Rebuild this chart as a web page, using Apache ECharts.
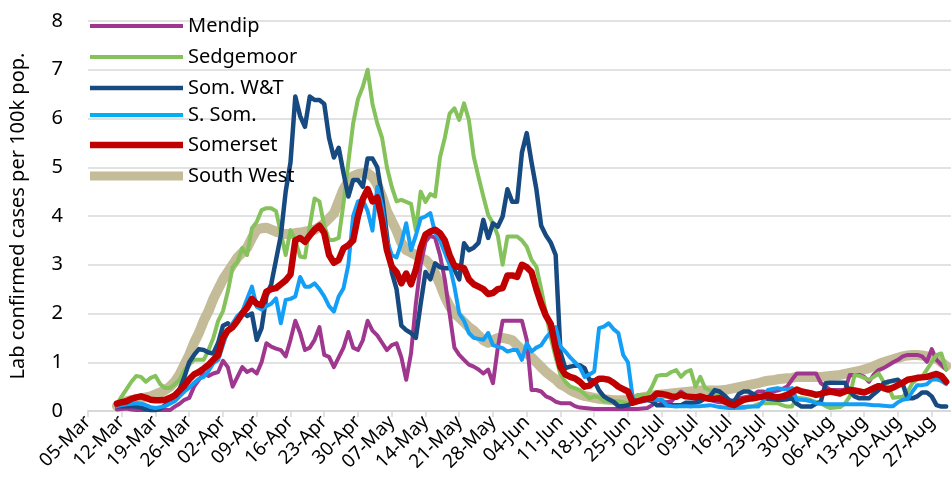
<!DOCTYPE html>
<html>
<head>
<meta charset="utf-8">
<script src="https://cdn.jsdelivr.net/npm/echarts@6/dist/echarts.min.js"></script>
<style>
  html, body { margin: 0; padding: 0; background: #fff; }
  #chart { width: 951px; height: 494px; }
</style>
</head>
<body>
<div id="chart"></div>
<script>
// daily categories 05-Mar .. 31-Aug, series start 11-Mar (index 6)
const months = ['Jan', 'Feb', 'Mar', 'Apr', 'May', 'Jun', 'Jul', 'Aug', 'Sep'];
const categories = [];
for (let d = new Date(2020, 2, 5); d <= new Date(2020, 7, 31); d.setDate(d.getDate() + 1)) {
  categories.push(String(d.getDate()).padStart(2, '0') + '-' + months[d.getMonth()]);
}
const firstDay = 6;

const mendip = [
  0.03, 0.04, 0.05, 0.03, 0.02, 0.02, 0.02, 0.02, 0.02, 0.02,
  0.02, 0.02, 0.09, 0.15, 0.23, 0.27, 0.5, 0.64, 0.77, 0.72,
  0.77, 0.8, 1.03, 0.9, 0.5, 0.7, 0.9, 0.8, 0.85, 0.77,
  1.0, 1.39, 1.32, 1.28, 1.25, 1.12, 1.46, 1.85, 1.6, 1.25,
  1.3, 1.46, 1.72, 1.15, 1.11, 0.9, 1.1, 1.3, 1.62, 1.3,
  1.25, 1.45, 1.85, 1.65, 1.55, 1.4, 1.25, 1.35, 1.39, 1.1,
  0.64, 1.18, 2.2, 3.0, 3.47, 3.6, 3.55, 3.2, 2.7, 2.0,
  1.3, 1.15, 1.05, 0.95, 0.91, 0.85, 0.77, 0.85, 0.57, 1.3,
  1.85, 1.85, 1.85, 1.85, 1.85, 1.46, 0.43, 0.43, 0.4, 0.3,
  0.26, 0.19, 0.16, 0.16, 0.16, 0.1, 0.07, 0.06, 0.05, 0.04,
  0.04, 0.04, 0.04, 0.04, 0.04, 0.04, 0.04, 0.04, 0.04, 0.05,
  0.06, 0.12, 0.23, 0.2, 0.18, 0.2, 0.3, 0.4, 0.32, 0.28,
  0.25, 0.25, 0.24, 0.23, 0.2, 0.18, 0.18, 0.18, 0.22, 0.26,
  0.28, 0.3, 0.33, 0.4, 0.4, 0.38, 0.4, 0.42, 0.45, 0.5,
  0.64, 0.77, 0.77, 0.77, 0.77, 0.77, 0.57, 0.5, 0.43, 0.43,
  0.43, 0.43, 0.74, 0.74, 0.74, 0.7, 0.6, 0.75, 0.84, 0.88,
  0.94, 1.0, 1.05, 1.12, 1.15, 1.15, 1.15, 1.12, 1.01, 1.27,
  1.05, 0.95, 0.85
];

const sedgemoor = [
  0.14, 0.3, 0.45, 0.6, 0.72, 0.7, 0.6, 0.68, 0.72, 0.55,
  0.47, 0.47, 0.55, 0.65, 0.84, 0.95, 1.05, 1.05, 1.05, 1.25,
  1.5, 1.85, 2.05, 2.45, 2.95, 3.06, 3.34, 3.2, 3.75, 3.88,
  4.12, 4.16, 4.16, 4.1, 3.65, 3.2, 3.71, 3.5, 3.17, 3.15,
  3.8, 4.36, 4.3, 3.8, 3.51, 3.51, 3.55, 4.26, 5.1, 5.9,
  6.4, 6.65, 7.0, 6.3, 5.9, 5.6, 5.0, 4.6, 4.3, 4.33,
  4.29, 4.25, 3.71, 4.5, 4.29, 4.45, 4.4, 5.2, 5.6, 6.1,
  6.21, 5.97, 6.31, 5.97, 5.22, 4.8, 4.4, 4.02, 3.85, 3.6,
  3.0, 3.58, 3.58, 3.58, 3.5, 3.37, 3.1, 2.96, 2.5, 2.0,
  1.5, 1.1, 0.75, 0.6, 0.5, 0.47, 0.43, 0.35, 0.26, 0.3,
  0.28, 0.2, 0.19, 0.2, 0.2, 0.18, 0.16, 0.25, 0.33, 0.33,
  0.33, 0.5, 0.72, 0.74, 0.74, 0.8, 0.84, 0.7, 0.8, 0.84,
  0.5, 0.7, 0.47, 0.42, 0.4, 0.3, 0.22, 0.16, 0.1, 0.06,
  0.06, 0.08, 0.1, 0.14, 0.16, 0.16, 0.16, 0.16, 0.12, 0.09,
  0.09, 0.27, 0.26, 0.25, 0.22, 0.18, 0.16, 0.1, 0.06, 0.07,
  0.08, 0.15, 0.3, 0.74, 0.72, 0.68, 0.64, 0.7, 0.77, 0.6,
  0.5, 0.27, 0.28, 0.29, 0.4, 0.57, 0.65, 0.7, 0.85, 1.0,
  1.15, 1.18, 0.85
];

const somWT = [
  0.1, 0.1, 0.1, 0.1, 0.09, 0.07, 0.04, 0.02, 0.02, 0.05,
  0.12, 0.2, 0.3, 0.45, 0.7, 1.0, 1.15, 1.27, 1.25, 1.2,
  1.18, 1.4, 1.75, 1.8, 1.7, 1.85, 2.04, 1.95, 2.0, 1.46,
  1.7, 2.35, 2.6, 3.1, 3.6, 4.5, 5.1, 6.45, 6.05, 5.83,
  6.45, 6.38, 6.38, 6.3, 5.6, 5.2, 5.4, 4.88, 4.4, 4.74,
  4.74, 4.6, 5.18, 5.18, 5.0, 4.4, 3.6, 2.85, 2.5, 1.75,
  1.66, 1.6, 1.5, 2.2, 2.85, 2.7, 3.03, 2.95, 2.93, 2.93,
  2.9, 2.7, 3.44, 3.3, 3.35, 3.45, 3.92, 3.55, 3.85, 3.78,
  3.99, 4.55, 4.29, 4.29, 5.3, 5.7, 5.1, 4.55, 3.8, 3.6,
  3.45, 3.2, 1.2, 0.88, 0.91, 0.93, 0.94, 0.88, 0.64, 0.62,
  0.42, 0.3, 0.24, 0.19, 0.1, 0.1, 0.12, 0.16, 0.2, 0.23,
  0.23, 0.2, 0.12, 0.12, 0.12, 0.12, 0.12, 0.12, 0.17, 0.17,
  0.17, 0.2, 0.26, 0.3, 0.43, 0.4, 0.32, 0.22, 0.19, 0.35,
  0.4, 0.4, 0.35, 0.29, 0.27, 0.25, 0.24, 0.23, 0.23, 0.24,
  0.26, 0.15, 0.09, 0.09, 0.09, 0.15, 0.19, 0.57, 0.58, 0.58,
  0.58, 0.58, 0.4, 0.3, 0.26, 0.26, 0.26, 0.35, 0.43, 0.57,
  0.6, 0.62, 0.64, 0.55, 0.26, 0.26, 0.3, 0.38, 0.38, 0.3,
  0.12, 0.09, 0.09
];

const sSom = [
  0.1, 0.12, 0.14, 0.15, 0.16, 0.15, 0.12, 0.08, 0.06, 0.08,
  0.1, 0.15, 0.2, 0.3, 0.4, 0.48, 0.58, 0.66, 0.7, 0.82,
  0.98, 1.05, 1.35, 1.65, 1.8, 1.95, 2.04, 2.3, 2.55, 2.14,
  2.08, 2.15, 2.2, 2.31, 1.8, 2.28, 2.3, 2.35, 2.75, 2.55,
  2.55, 2.62, 2.5, 2.35, 2.15, 2.04, 2.35, 2.52, 3.0, 4.0,
  4.3, 4.33, 4.1, 3.7, 4.6, 4.2, 3.5, 3.2, 3.15, 3.45,
  3.85, 3.3, 3.6, 3.95, 3.99, 4.06, 3.65, 3.5, 3.25, 3.0,
  2.55, 2.0, 1.85, 1.6, 1.5, 1.48, 1.46, 1.6, 1.35, 1.32,
  1.29, 1.22, 1.25, 1.25, 1.05, 1.39, 1.22, 1.3, 1.35, 1.5,
  1.62, 1.72, 1.32, 1.22, 1.1, 1.0, 0.9, 0.7, 0.75, 0.81,
  1.7, 1.73, 1.8, 1.68, 1.6, 1.15, 1.0, 0.26, 0.19, 0.2,
  0.22, 0.23, 0.23, 0.23, 0.12, 0.1, 0.09, 0.1, 0.1, 0.09,
  0.1, 0.1, 0.11, 0.12, 0.1, 0.08, 0.07, 0.06, 0.06, 0.07,
  0.08, 0.09, 0.09, 0.09, 0.2, 0.43, 0.45, 0.47, 0.45, 0.44,
  0.47, 0.23, 0.23, 0.22, 0.2, 0.16, 0.15, 0.14, 0.14, 0.14,
  0.14, 0.14, 0.14, 0.14, 0.14, 0.14, 0.13, 0.12, 0.12, 0.11,
  0.1, 0.1, 0.18, 0.23, 0.25, 0.4, 0.53, 0.53, 0.55, 0.64,
  0.65, 0.62, 0.55
];

const somerset = [
  0.15, 0.18, 0.2, 0.25, 0.28, 0.3, 0.27, 0.23, 0.22, 0.22,
  0.23, 0.27, 0.32, 0.42, 0.52, 0.65, 0.75, 0.8, 0.87, 0.95,
  1.05, 1.15, 1.5, 1.65, 1.72, 1.85, 2.0, 2.12, 2.3, 2.2,
  2.17, 2.45, 2.5, 2.52, 2.6, 2.68, 2.8, 3.5, 3.55, 3.47,
  3.6, 3.72, 3.8, 3.65, 3.2, 3.04, 3.1, 3.34, 3.4, 3.5,
  4.0, 4.35, 4.55, 4.3, 4.38, 3.9, 3.3, 2.96, 2.85, 2.62,
  2.82, 2.6, 2.9, 3.35, 3.62, 3.68, 3.72, 3.65, 3.5, 3.2,
  2.98, 2.95, 2.93, 2.7, 2.6, 2.55, 2.5, 2.4, 2.42, 2.5,
  2.52, 2.78, 2.78, 2.75, 3.0, 2.95, 2.85, 2.5, 2.2, 1.95,
  1.78, 1.3, 0.9, 0.75, 0.7, 0.67, 0.6, 0.5, 0.52, 0.6,
  0.66, 0.66, 0.64, 0.58, 0.5, 0.45, 0.4, 0.17, 0.2, 0.23,
  0.25, 0.27, 0.36, 0.35, 0.33, 0.3, 0.29, 0.34, 0.3, 0.29,
  0.28, 0.3, 0.27, 0.25, 0.25, 0.26, 0.2, 0.15, 0.12, 0.18,
  0.23, 0.25, 0.26, 0.28, 0.3, 0.33, 0.3, 0.28, 0.3, 0.33,
  0.38, 0.44, 0.4, 0.38, 0.36, 0.33, 0.35, 0.38, 0.4, 0.38,
  0.36, 0.4, 0.43, 0.42, 0.4, 0.38, 0.42, 0.47, 0.51, 0.47,
  0.44, 0.48, 0.53, 0.58, 0.64, 0.66, 0.68, 0.69, 0.7, 0.73,
  0.76, 0.72, 0.6
];

const southWest = [
  0.1, 0.15, 0.2, 0.22, 0.24, 0.26, 0.28, 0.3, 0.34, 0.38,
  0.43, 0.5, 0.6, 0.75, 0.95, 1.15, 1.4, 1.6, 1.85, 2.05,
  2.3, 2.5, 2.7, 2.85, 3.0, 3.15, 3.25, 3.35, 3.55, 3.72,
  3.75, 3.76, 3.72, 3.68, 3.65, 3.63, 3.63, 3.65, 3.66, 3.68,
  3.7, 3.72, 3.78, 3.85, 3.95, 4.05, 4.3, 4.55, 4.72, 4.82,
  4.86, 4.88, 4.88, 4.8, 4.65, 4.4, 4.1, 3.9, 3.7, 3.45,
  3.3, 3.25, 3.2, 3.15, 3.1, 3.0, 2.82, 2.6, 2.35, 2.15,
  2.0, 1.92, 1.82, 1.72, 1.65, 1.55, 1.45, 1.4, 1.45, 1.5,
  1.5, 1.48, 1.45, 1.35, 1.25, 1.18, 1.1, 1.0, 0.9, 0.8,
  0.72, 0.65, 0.55, 0.5, 0.43, 0.38, 0.34, 0.31, 0.29, 0.27,
  0.25, 0.24, 0.23, 0.22, 0.22, 0.22, 0.22, 0.23, 0.25, 0.28,
  0.3, 0.32, 0.33, 0.34, 0.35, 0.36, 0.37, 0.38, 0.39, 0.4,
  0.41, 0.42, 0.42, 0.42, 0.42, 0.42, 0.43, 0.45, 0.47, 0.49,
  0.51, 0.53, 0.55, 0.57, 0.6, 0.62, 0.63, 0.65, 0.66, 0.67,
  0.68, 0.7, 0.7, 0.7, 0.7, 0.7, 0.7, 0.71, 0.72, 0.73,
  0.74, 0.76, 0.78, 0.8, 0.82, 0.85, 0.88, 0.92, 0.96, 1.0,
  1.03, 1.06, 1.09, 1.12, 1.14, 1.15, 1.15, 1.14, 1.12, 1.1,
  1.08, 1.0, 0.92
];

const seriesNames = ['Mendip', 'Sedgemoor', 'Som. W&T', 'S. Som.', 'Somerset', 'South West'];
const seriesValues = [mendip, sedgemoor, somWT, sSom, somerset, southWest];
const seriesColors = ['#A0378E', '#85C25C', '#174A80', '#149FF7', '#C00000', '#C4BC98'];
const seriesWidths = [4, 4, 4.5, 4, 6.5, 10];
const legendColors = ['#A0378E', '#85C25C', '#174A80', '#00B0F0', '#C00000', '#C4BC98'];

const font = '"Noto Sans", "Open Sans", sans-serif';
const chart = echarts.init(document.getElementById('chart'));

// one legend block per entry so each swatch can have its own thickness
const legendTops = [11, 42, 73, 100, 130, 161];

chart.setOption({
  animation: false,
  backgroundColor: '#fff',
  grid: { left: 79, right: 0, top: 21, bottom: 83, containLabel: false },
  legend: seriesNames.map((n, i) => ({
    data: [{ name: n, icon: 'rect', itemStyle: { color: legendColors[i] } }],
    left: 85,
    top: legendTops[i],
    itemWidth: 93,
    itemHeight: Math.min(seriesWidths[i], 9),
    itemGap: 9,
    selectedMode: false,
    textStyle: { color: '#000', fontSize: 20, fontFamily: font }
  })),
  xAxis: {
    type: 'category',
    data: categories,
    boundaryGap: false,
    axisLine: { lineStyle: { color: '#D9D9D9', width: 2 } },
    axisTick: { interval: 6, length: 6, lineStyle: { color: '#D9D9D9', width: 1.5 } },
    axisLabel: { interval: 6, rotate: 45, margin: 8, color: '#000', fontSize: 19, fontFamily: font },
    splitLine: { show: false }
  },
  yAxis: {
    type: 'value',
    min: 0,
    max: 8,
    interval: 1,
    name: 'Lab confirmed cases per 100k pop.',
    nameLocation: 'middle',
    nameGap: 60,
    nameTextStyle: { color: '#000', fontSize: 20, fontFamily: font },
    axisLine: { show: false },
    axisTick: { show: false },
    axisLabel: { color: '#000', fontSize: 20, fontFamily: font, margin: 25 },
    splitLine: { lineStyle: { color: '#D9D9D9', width: 1.5 } }
  },
  series: seriesNames.map((n, i) => ({
    name: n,
    type: 'line',
    data: new Array(firstDay).fill(null).concat(seriesValues[i]),
    symbol: 'none',
    z: n === 'South West' ? 1 : (n === 'Somerset' ? 4 : 2),
    lineStyle: { color: seriesColors[i], width: seriesWidths[i], join: 'round', cap: 'round' },
    itemStyle: { color: seriesColors[i] }
  }))
});
</script>
</body>
</html>
